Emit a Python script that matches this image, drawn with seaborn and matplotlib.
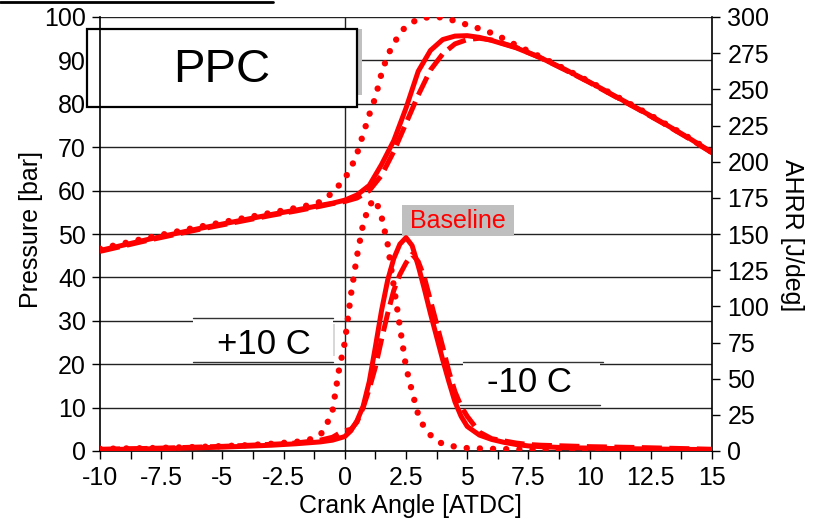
import matplotlib
matplotlib.use("Agg")
import matplotlib.pyplot as plt
import seaborn as sns
from matplotlib.patches import Rectangle
from matplotlib.lines import Line2D

# ---------------- data ----------------
# Pressure [bar]
p_base_x = [-10, -9, -8, -7, -6, -5, -4, -3, -2, -1, -0.5, 0, 0.5, 1, 1.5, 2, 2.5, 3, 3.5, 4, 4.5, 5,
            5.5, 6, 7, 8, 9, 10, 11, 12, 13, 14, 15]
p_base_y = [46.2, 47.5, 48.8, 50.0, 51.2, 52.3, 53.4, 54.5, 55.5, 56.6, 57.1, 57.8, 59.0, 61.2, 66.0,
            71.5, 79.0, 87.5, 92.3, 94.8, 95.6, 95.7, 95.3, 94.6, 92.9, 90.6, 87.9, 85.0, 81.9, 78.8,
            75.6, 72.3, 68.8]

p_cold_x = [-10, -9, -8, -7, -6, -5, -4, -3, -2, -1, -0.5, 0, 0.5, 1, 1.5, 2, 2.5, 3, 3.5, 4, 4.5, 5,
            5.5, 6, 7, 8, 9, 10, 11, 12, 13, 14, 15]
p_cold_y = [46.0, 47.3, 48.6, 49.8, 51.0, 52.1, 53.2, 54.3, 55.3, 56.4, 57.0, 57.5, 58.3, 60.0, 63.5,
            69.0, 75.5, 82.0, 87.8, 91.5, 93.8, 94.8, 95.1, 94.7, 93.0, 90.6, 87.8, 84.9, 81.8, 78.7,
            75.5, 72.2, 68.7]

p_hot_x = [-10, -9, -8, -7, -6, -5, -4, -3, -2, -1.5, -1, -0.5, 0, 0.25, 0.5, 0.75, 1, 1.25, 1.5, 1.75,
           2, 2.25, 2.5, 3, 3.5, 4, 4.5, 5, 5.5, 6, 6.5, 7, 8, 9, 10, 11, 12, 13, 14, 15]
p_hot_y = [46.6, 47.9, 49.2, 50.4, 51.6, 52.7, 53.8, 54.9, 56.0, 56.6, 57.4, 59.5, 62.8, 65.2, 68.5,
           73.0, 77.5, 81.5, 87.0, 91.2, 93.8, 96.3, 97.8, 99.6, 100.0, 99.9, 99.1, 98.2, 97.3, 96.3,
           95.0, 93.5, 90.8, 88.0, 85.1, 82.0, 78.9, 75.7, 72.4, 68.9]

# AHRR [J/deg]
h_base_x = [-10, -9, -8, -7, -6, -5, -4, -3, -2, -1, -0.5, 0, 0.25, 0.5, 0.75, 1, 1.25, 1.5, 1.75, 2,
            2.25, 2.5, 2.75, 3, 3.25, 3.5, 3.75, 4, 4.25, 4.5, 4.75, 5, 5.5, 6, 6.5, 7, 7.5, 8, 9, 10,
            11, 12, 13, 14, 15]
h_base_y = [1.0, 1.2, 1.5, 1.8, 2.2, 2.7, 3.3, 4.0, 5.0, 6.3, 7.5, 10, 14, 21, 31, 48, 72, 97, 118, 133,
            143, 147.5, 142, 128, 112, 95, 79, 63, 48, 34, 24, 17, 11, 8, 6, 4.5, 3.5, 3, 2.3, 2,
            1.7, 1.5, 1.3, 1.1, 1.0]

h_cold_x = [-10, -9, -8, -7, -6, -5, -4, -3, -2, -1, -0.5, -0.25, 0, 0.25, 0.5, 0.75, 1, 1.25, 1.5,
            1.75, 2, 2.25, 2.5, 2.75, 3, 3.25, 3.5, 3.75, 4, 4.25, 4.5, 4.75, 5, 5.5, 6, 6.5, 7, 7.5,
            8, 9, 10, 11, 12, 13, 14, 15]
h_cold_y = [1.2, 1.5, 1.8, 2.2, 2.7, 3.2, 3.9, 4.6, 5.5, 7.5, 9.5, 12, 14, 15, 20, 30, 43, 58, 77,
            95, 111, 122, 130, 136, 131, 120, 104, 88, 72, 55, 41, 31, 24, 13, 8.5, 7, 5.5, 4.5,
            4, 3.5, 3, 2.7, 2.4, 2, 1.6, 1.2]

h_hot_x = [-10, -8, -6, -4, -3, -2, -1.5, -1, -0.75, -0.5, -0.25, 0, 0.25, 0.5, 0.75, 1, 1.25, 1.5,
           1.75, 2, 2.25, 2.5, 2.75, 3, 3.25, 3.5, 3.75, 4, 4.5, 5, 6, 7, 8, 10, 12, 15]
h_hot_y = [1.5, 2, 2.8, 4, 5, 6.3, 7.5, 11, 18, 28, 55, 75, 108, 135, 157, 170, 174, 162, 143, 114,
           86, 58, 41, 25, 16, 11, 7, 5, 3, 2, 1.5, 1.2, 1, 0.8, 0.6, 0.5]

x_ticks = [-10, -7.5, -5, -2.5, 0, 2.5, 5, 7.5, 10, 12.5, 15]
x_tick_labels = ["-10", "-7.5", "-5", "-2.5", "0", "2.5", "5", "7.5", "10", "12.5", "15"]
p_ticks = [0, 10, 20, 30, 40, 50, 60, 70, 80, 90, 100]
h_ticks = [0, 25, 50, 75, 100, 125, 150, 175, 200, 225, 250, 275, 300]

# ---------------- style ----------------
sns.set_theme(style="white")
plt.rcParams["font.family"] = ["Liberation Sans", "DejaVu Sans"]
plt.rcParams["text.color"] = "black"
plt.rcParams["axes.labelcolor"] = "black"
plt.rcParams["xtick.color"] = "black"
plt.rcParams["ytick.color"] = "black"

W, H = 817, 521
fig = plt.figure(figsize=(W / 100, H / 100), dpi=100)
L, R, B, T = 100, 712, 451, 17
ax = fig.add_axes([L / W, 1 - B / H, (R - L) / W, (B - T) / H])
ax2 = ax.twinx()

RED = "#ff0000"
LW = 3.6
solid = dict(color=RED, lw=LW, linestyle="-", solid_capstyle="round")
dotted = dict(color=RED, lw=4.6, linestyle=(0, (0.01, 2.05)), dash_capstyle="round")
dashed = dict(color=RED, lw=LW, linestyle=(0, (4.0, 1.5)), dash_capstyle="butt")

# pressure curves
sns.lineplot(x=p_hot_x, y=p_hot_y, ax=ax, estimator=None, sort=False, zorder=4, **dotted)
sns.lineplot(x=p_cold_x, y=p_cold_y, ax=ax, estimator=None, sort=False, zorder=4, **dashed)
sns.lineplot(x=p_base_x, y=p_base_y, ax=ax, estimator=None, sort=False, zorder=4, **solid)
# AHRR curves
sns.lineplot(x=h_hot_x, y=h_hot_y, ax=ax2, estimator=None, sort=False, zorder=4, **dotted)
sns.lineplot(x=h_cold_x, y=h_cold_y, ax=ax2, estimator=None, sort=False, zorder=4, **dashed)
sns.lineplot(x=h_base_x, y=h_base_y, ax=ax2, estimator=None, sort=False, zorder=4, **solid)

ax.set_xlim(-10, 15)
ax.set_ylim(0, 100)
ax2.set_ylim(0, 300)

ax.set_xticks(x_ticks)
ax.set_xticklabels(x_tick_labels)
ax.set_xticks([v + 1.25 for v in x_ticks[:-1]], minor=True)
ax.set_yticks(p_ticks)
ax.set_yticklabels([str(v) for v in p_ticks])
ax2.set_yticks(h_ticks)
ax2.set_yticklabels([str(v) for v in h_ticks])

for a in (ax, ax2):
    a.set_xlabel("")
    a.set_ylabel("")
    for s in a.spines.values():
        s.set_visible(False)

ax.spines["left"].set_visible(True)
ax.spines["left"].set_color("black")
ax.spines["left"].set_linewidth(1.2)
ax.spines["bottom"].set_visible(True)
ax.spines["bottom"].set_color("black")
ax.spines["bottom"].set_linewidth(1.2)
ax2.spines["right"].set_visible(True)
ax2.spines["right"].set_color("black")
ax2.spines["right"].set_linewidth(1.2)

ax.grid(False)
ax2.grid(False)
for v in p_ticks[1:]:
    ax.axhline(v, color="#222222", lw=1.0, zorder=0.5)
ax.axvline(0, color="#222222", lw=1.0, zorder=0.5)

ax.tick_params(axis="x", which="both", direction="out", length=6, width=1, color="black",
               labelsize=18, pad=5, bottom=True, labelcolor="black")
ax.tick_params(axis="y", direction="out", length=6, width=1, color="black", labelsize=18, pad=4,
               left=True, labelcolor="black")
ax2.tick_params(axis="y", direction="out", length=6, width=1, color="black", labelsize=18, pad=5,
                right=True, labelcolor="black")

# axis labels
fig.text(410 / W, 1 - 506 / H, "Crank Angle [ATDC]", ha="center", va="center", fontsize=18, color="black")
fig.text(31 / W, 1 - 229 / H, "Pressure [bar]", ha="center", va="center", rotation=90, fontsize=18,
         color="black")
fig.text(792 / W, 1 - 235 / H, "AHRR [J/deg]", ha="center", va="center", rotation=270, fontsize=18,
         color="black")


def px_box(x0, y0, x1, y1, **kw):
    return Rectangle((x0 / W, 1 - y1 / H), (x1 - x0) / W, (y1 - y0) / H, transform=fig.transFigure, **kw)


def px_hline(x0, x1, y, **kw):
    return Line2D([x0 / W, x1 / W], [1 - y / H, 1 - y / H], transform=fig.transFigure, **kw)


# PPC box with shadow
ax.add_patch(px_box(357, 29, 362, 95, facecolor="#c0c0c0", edgecolor="none", zorder=2, clip_on=False))
ax.add_patch(px_box(87, 29, 357, 107, facecolor="white", edgecolor="black", lw=1.6, zorder=2.1, clip_on=False))
fig.text(222 / W, 1 - 70 / H, "PPC", ha="center", va="center", fontsize=34, zorder=5, color="black")

# +10 C box
ax.add_patch(px_box(193, 318, 333, 362, facecolor="white", edgecolor="none", zorder=2))
ax.add_patch(px_box(333, 324, 335, 356, facecolor="#d8d8d8", edgecolor="none", zorder=2))
ax.add_line(px_hline(193, 333, 318, color="#333333", lw=1.0, zorder=2.2))
ax.add_line(px_hline(193, 333, 362, color="#333333", lw=1.0, zorder=2.2))
ax.text(264 / W, 1 - 344 / H, "+10 C", transform=fig.transFigure, ha="center", va="center",
        fontsize=25, zorder=3, color="black")
# -10 C box
ax.add_patch(px_box(463, 362, 600, 405, facecolor="white", edgecolor="none", zorder=2))
ax.add_line(px_hline(463, 603, 362, color="#333333", lw=1.0, zorder=2.2))
ax.add_line(px_hline(460, 600, 405, color="#333333", lw=1.0, zorder=2.2))
ax.text(529 / W, 1 - 383 / H, "-10 C", transform=fig.transFigure, ha="center", va="center",
        fontsize=25, zorder=3, color="black")
# Baseline label
ax.add_patch(px_box(402, 205, 514, 236, facecolor="#bfbfbf", edgecolor="none", zorder=2))
ax.text(458 / W, 1 - 221 / H, "Baseline", transform=fig.transFigure, ha="center", va="center",
        fontsize=18, color=RED, zorder=3)

# stray line at top-left
fig.add_artist(Line2D([0, 273 / W], [1 - 2 / H, 1 - 2 / H], color="black", lw=2))

fig.savefig("out.png", dpi=100)
